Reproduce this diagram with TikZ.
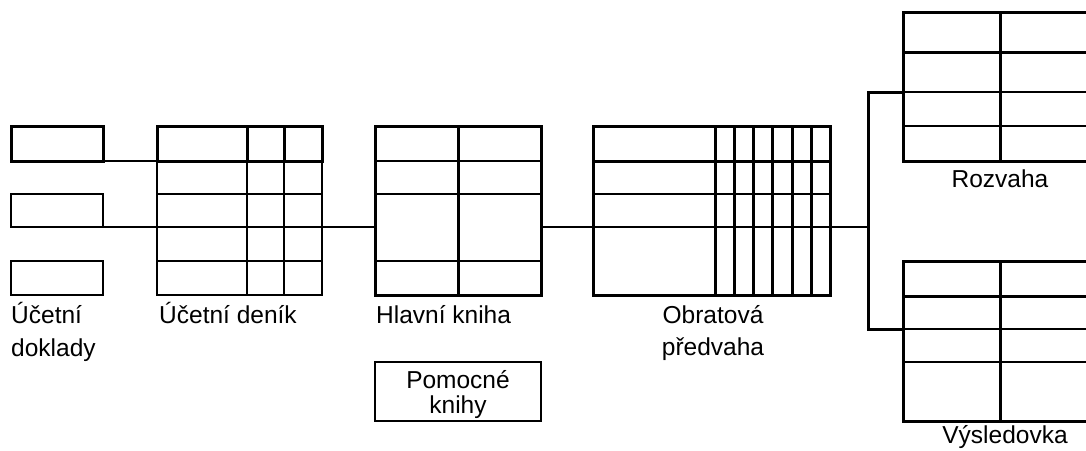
\documentclass[tikz,border=0pt]{standalone}
\usepackage{fontspec}
\setmainfont{Liberation Sans}
\begin{document}
\begin{tikzpicture}[x=1pt,y=-1pt,
  thinl/.style={line width=2pt},
  boldl/.style={line width=3pt},
  box/.style={draw, line width=2pt, inner sep=0pt, outer sep=0pt, anchor=north west},
  lbl/.style={anchor=base west, inner sep=0pt, font=\fontsize{24.5}{29}\selectfont},
  lblc/.style={anchor=base, inner sep=0pt, font=\fontsize{24.5}{29}\selectfont}]
\clip (0,0) rectangle (1086,450);
\fill[white] (0,0) rectangle (1086,450);

% --- documents
\node[box, line width=3pt, minimum width=92pt, minimum height=35pt] (d1) at (11,126) {};
\node[box, minimum width=92pt, minimum height=33pt] (d2) at (11,194) {};
\node[box, minimum width=92pt, minimum height=34pt] (d3) at (11,261) {};

% --- ucetni denik
\coordinate (jW1) at (157,161);
\draw[thinl] (157,161) rectangle (322,295);
\foreach \y in {194,227,261} \draw[thinl] (157,\y) -- (322,\y);
\foreach \x in {247,284} \draw[thinl] (\x,161) -- (\x,295);
\draw[boldl] (157,126) rectangle (322,161);
\foreach \x in {247,284} \draw[boldl] (\x,126) -- (\x,161);

% --- hlavni kniha
\coordinate (hW) at (375,227);
\coordinate (hE) at (541,227);
\foreach \y in {161,194,261} \draw[thinl] (375,\y) -- (541,\y);
\draw[line width=2.5pt] (375,194) rectangle (541,261);
\draw[boldl] (375,126) rectangle (541,295);
\draw[boldl] (458,126) -- (458,295);

% --- obratova predvaha
\coordinate (oW) at (593,227);
\coordinate (oE) at (830,227);
\foreach \y in {194,227} \draw[thinl] (593,\y) -- (830,\y);
\draw[boldl] (593,126) rectangle (830,295);
\draw[boldl] (593,126) rectangle (830,161);
\foreach \x in {715,734,753,772,792,811} \draw[boldl] (\x,126) -- (\x,295);

% --- rozvaha
\coordinate (rW) at (903,92);
\foreach \y in {92,126} \draw[thinl] (903,\y) -- (1100,\y);
\draw[boldl] (903,52) -- (1100,52);
\draw[boldl] (903,12) rectangle (1100,161);
\draw[boldl] (1000,12) -- (1000,161);

% --- vysledovka
\coordinate (vW) at (903,329);
\foreach \y in {329,362} \draw[thinl] (903,\y) -- (1100,\y);
\draw[boldl] (903,296) -- (1100,296);
\draw[boldl] (903,261) rectangle (1100,421);
\draw[boldl] (1000,261) -- (1000,421);

% --- connectors
\coordinate (sp) at (868,227);
\draw[thinl] (d1.south east) -- (jW1);
\draw[thinl] (d2.south west) -- (hW);
\draw[thinl] (hE) -- (oW);
\draw[thinl] (oE) -- (sp);
\draw[boldl] (rW) -| (sp) |- (vW);

% --- pomocne knihy
\node[box, minimum width=166pt, minimum height=59pt] (pk) at (375,362) {};

% --- labels
\node[lbl] (t1) at (11,323) {Účetní};
\node[lbl] (t1b) at (11,356) {doklady};
\node[lbl] (t2) at (159,323) {Účetní deník};
\node[lbl] (t3) at (376,323) {Hlavní kniha};
\node[lblc] (t4) at (713,323) {Obratová};
\node[lblc] (t4b) at (713,355) {předvaha};
\node[lblc] (t5) at (1000,187) {Rozvaha};
\node[lblc] (t6) at (1005,443) {Výsledovka};
\node[lblc] (t7) at (458,388) {Pomocné};
\node[lblc] (t7b) at (458,413) {knihy};
\end{tikzpicture}
\end{document}
